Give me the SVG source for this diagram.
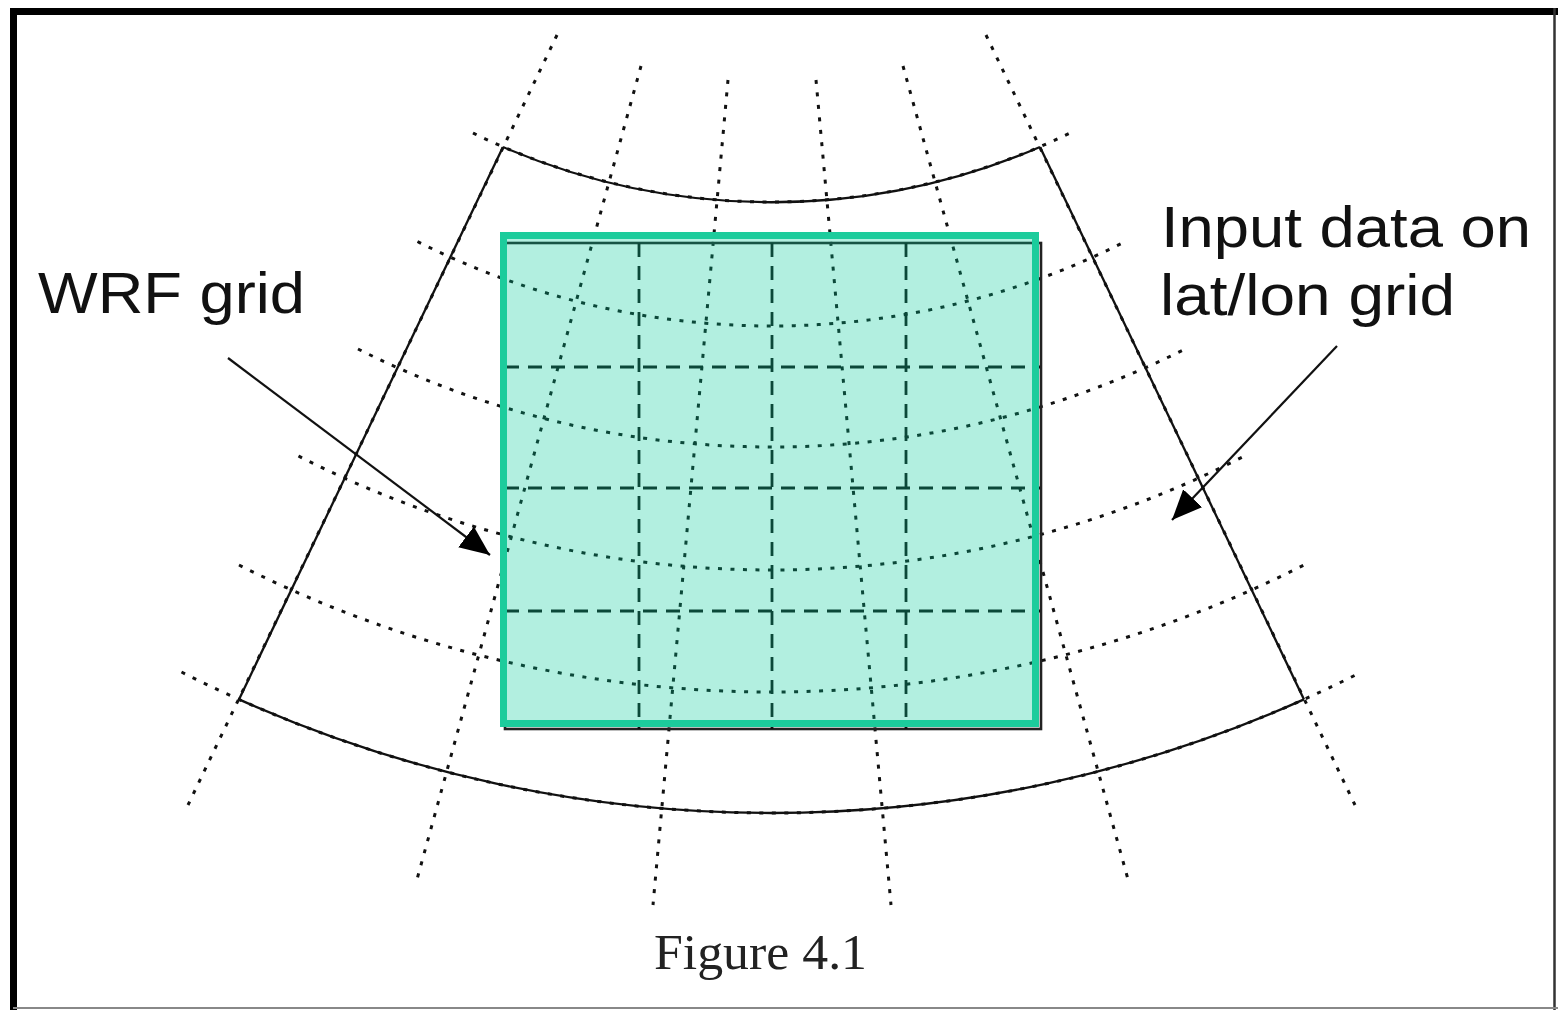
<svg xmlns="http://www.w3.org/2000/svg" width="1558" height="1010" viewBox="0 0 1558 1010">
<style>
.dot{fill:none;stroke:#111;stroke-width:3;stroke-dasharray:4 8.5}
.solid{fill:none;stroke:#111;stroke-width:2.3}
.dash{fill:none;stroke:#111;stroke-width:2.8;stroke-dasharray:14 9}
.lbl{font-family:"Liberation Sans",Arial,sans-serif;font-size:58px;fill:#111}
.cap{font-family:"Liberation Serif","Times New Roman",serif;font-size:51px;fill:#222}
.arr{fill:none;stroke:#111;stroke-width:2.2}
</style>
<defs>
<marker id="ah" markerUnits="userSpaceOnUse" markerWidth="32" markerHeight="26" refX="30" refY="13" orient="auto">
<path d="M0,0 L30,13 L0,26 z" fill="#000"/>
</marker>
</defs>
<rect x="0" y="0" width="1558" height="1010" fill="#fff"/>
<g id="frame">
<line x1="13.5" y1="8" x2="13.5" y2="1010" stroke="#000" stroke-width="7"/>
<line x1="10" y1="11.5" x2="1558" y2="11.5" stroke="#000" stroke-width="7"/>
<line x1="1554.5" y1="8" x2="1554.5" y2="1010" stroke="#333" stroke-width="2.5"/>
<line x1="13" y1="1008" x2="1558" y2="1008" stroke="#888" stroke-width="2"/>
</g>
<g id="latlon-grid">
<path class="dot" d="M473,133 A680.2,680.2 0 0 0 1070,133"/>
<path class="dot" d="M417.5,241.5 A783.8,783.8 0 0 0 1125.5,241.5"/>
<path class="dot" d="M358,349 A921.4,921.4 0 0 0 1185,349"/>
<path class="dot" d="M298.5,456 A1038.3,1038.3 0 0 0 1244.5,456"/>
<path class="dot" d="M239,565 A1179.9,1179.9 0 0 0 1304,565"/>
<path class="dot" d="M181.5,672 A1304.9,1304.9 0 0 0 1361.5,672"/>
<line class="dot" x1="557" y1="35" x2="188" y2="805"/>
<line class="dot" x1="986" y1="35" x2="1355" y2="805"/>
<line class="dot" x1="641" y1="66" x2="416" y2="883"/>
<line class="dot" x1="728" y1="80" x2="653" y2="905"/>
<line class="dot" x1="816" y1="80" x2="891" y2="905"/>
<line class="dot" x1="903" y1="66" x2="1129" y2="883"/>
<path class="solid" d="M503,147 A680.2,680.2 0 0 0 1040,147"/>
<path class="solid" d="M239,699.4 A1304.9,1304.9 0 0 0 1304,699.4"/>
<line class="solid" x1="503" y1="147" x2="239" y2="699.4"/>
<line class="solid" x1="1040" y1="147" x2="1304" y2="699.4"/>
</g>
<g id="wrf-grid">
<rect x="505" y="243" width="536" height="486" fill="none" stroke="#222" stroke-width="2.6"/>
<line class="dash" x1="505" y1="367" x2="1040" y2="367"/>
<line class="dash" x1="505" y1="488" x2="1040" y2="488"/>
<line class="dash" x1="505" y1="611" x2="1040" y2="611"/>
<line class="dash" x1="639" y1="243" x2="639" y2="729"/>
<line class="dash" x1="772" y1="243" x2="772" y2="729"/>
<line class="dash" x1="906" y1="243" x2="906" y2="729"/>
<rect x="503.5" y="235.5" width="532" height="488" fill="rgb(0,201,152)" fill-opacity="0.3" stroke="#1ccc9c" stroke-width="7"/>
</g>
<g id="connectors">
<line class="arr" x1="228" y1="358" x2="490" y2="555" marker-end="url(#ah)"/>
<line class="arr" x1="1337" y1="346" x2="1172" y2="520" marker-end="url(#ah)"/>
</g>
<g id="labels">
<text class="lbl" x="38" y="313" textLength="267" lengthAdjust="spacingAndGlyphs">WRF grid</text>
<text class="lbl" x="1161" y="247" textLength="370" lengthAdjust="spacingAndGlyphs">Input data on</text>
<text class="lbl" x="1160" y="315" textLength="295" lengthAdjust="spacingAndGlyphs">lat/lon grid</text>
<text class="cap" x="654" y="969" textLength="213" lengthAdjust="spacingAndGlyphs">Figure 4.1</text>
</g>
</svg>
